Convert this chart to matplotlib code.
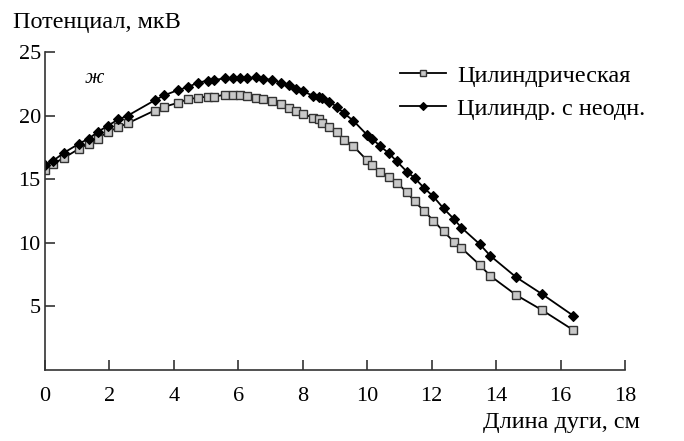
import matplotlib
matplotlib.use('Agg')
import matplotlib.pyplot as plt

plt.rcParams['font.family'] = ['Liberation Serif', 'DejaVu Serif']

# длина дуги, см
x = [0, 0.25, 0.6, 1.06, 1.36, 1.63, 1.94, 2.28, 2.57, 3.4, 3.7, 4.12, 4.44,
     4.75, 5.06, 5.26, 5.6, 5.85, 6.06, 6.28, 6.54, 6.76, 7.04, 7.33, 7.57,
     7.8, 8.02, 8.33, 8.5, 8.6, 8.8, 9.06, 9.27, 9.57, 9.99, 10.15, 10.4,
     10.67, 10.92, 11.23, 11.47, 11.77, 12.05, 12.37, 12.68, 12.92, 13.49,
     13.82, 14.62, 15.42, 16.39]
# цилиндрическая
cyl = [15.75, 16.2, 16.7, 17.4, 17.8, 18.2, 18.7, 19.1, 19.4, 20.4, 20.7,
       21.0, 21.3, 21.4, 21.5, 21.5, 21.65, 21.65, 21.65, 21.55, 21.4, 21.3,
       21.15, 20.9, 20.6, 20.4, 20.1, 19.85, 19.75, 19.45, 19.1, 18.7, 18.1,
       17.6, 16.5, 16.1, 15.6, 15.2, 14.7, 14.0, 13.25, 12.5, 11.75, 10.9,
       10.1, 9.6, 8.27, 7.4, 5.9, 4.72, 3.15]
# цилиндр. с неодн.
inh = [16.1, 16.45, 17.1, 17.8, 18.2, 18.7, 19.2, 19.7, 20.0, 21.2, 21.6,
       22.0, 22.25, 22.6, 22.75, 22.8, 22.95, 22.95, 22.95, 22.95, 23.0, 22.9,
       22.8, 22.6, 22.4, 22.1, 21.9, 21.55, 21.45, 21.35, 21.1, 20.7, 20.2,
       19.6, 18.5, 18.2, 17.6, 17.05, 16.4, 15.6, 15.1, 14.3, 13.65, 12.7,
       11.9, 11.2, 9.9, 8.98, 7.3, 5.98, 4.28]

xticks = [0, 2, 4, 6, 8, 10, 12, 14, 16, 18]
yticks = [5, 10, 15, 20, 25]

fig = plt.figure(figsize=(6.84, 4.41), dpi=100)
ax = fig.add_axes([0.0658, 0.161, 0.8479, 0.721])

ax.plot(x, cyl, '-s', color='black', lw=1.3, ms=6.3, mfc='#c8c8c8',
        mec='#333333', mew=1.0, label='Цилиндрическая')
ax.plot(x, inh, '-D', color='black', lw=1.3, ms=5.5, mfc='black',
        mec='black', mew=0.8, label='Цилиндр. с неодн.')

ax.set_xlim(0, 18)
ax.set_ylim(0, 25)
ax.set_xticks(xticks)
ax.set_yticks(yticks)
ax.spines['top'].set_visible(False)
ax.spines['right'].set_visible(False)
for s in ['left', 'bottom']:
    ax.spines[s].set_linewidth(1.2)
    ax.spines[s].set_color('#333333')
ax.tick_params(direction='in', length=7, width=1.2, color='#333333',
               labelsize=16)
ax.tick_params(axis='x', pad=12)
ax.tick_params(axis='y', pad=3)

fig.text(0.019, 0.925, 'Потенциал, мкВ', fontsize=17.5, ha='left', va='bottom')
fig.text(0.936, 0.018, 'Длина дуги, см', fontsize=17.5, ha='right', va='bottom')
ax.text(1.52, 22.9, 'ж', fontsize=15, style='italic', ha='center', va='center')

leg = ax.legend(loc='upper left', bbox_to_anchor=(0.595, 0.99), frameon=False,
                fontsize=17.5, markerscale=0.7, handlelength=1.9,
                handletextpad=0.45, labelspacing=0.45, borderaxespad=0)

fig.savefig('out.png', dpi=100)
